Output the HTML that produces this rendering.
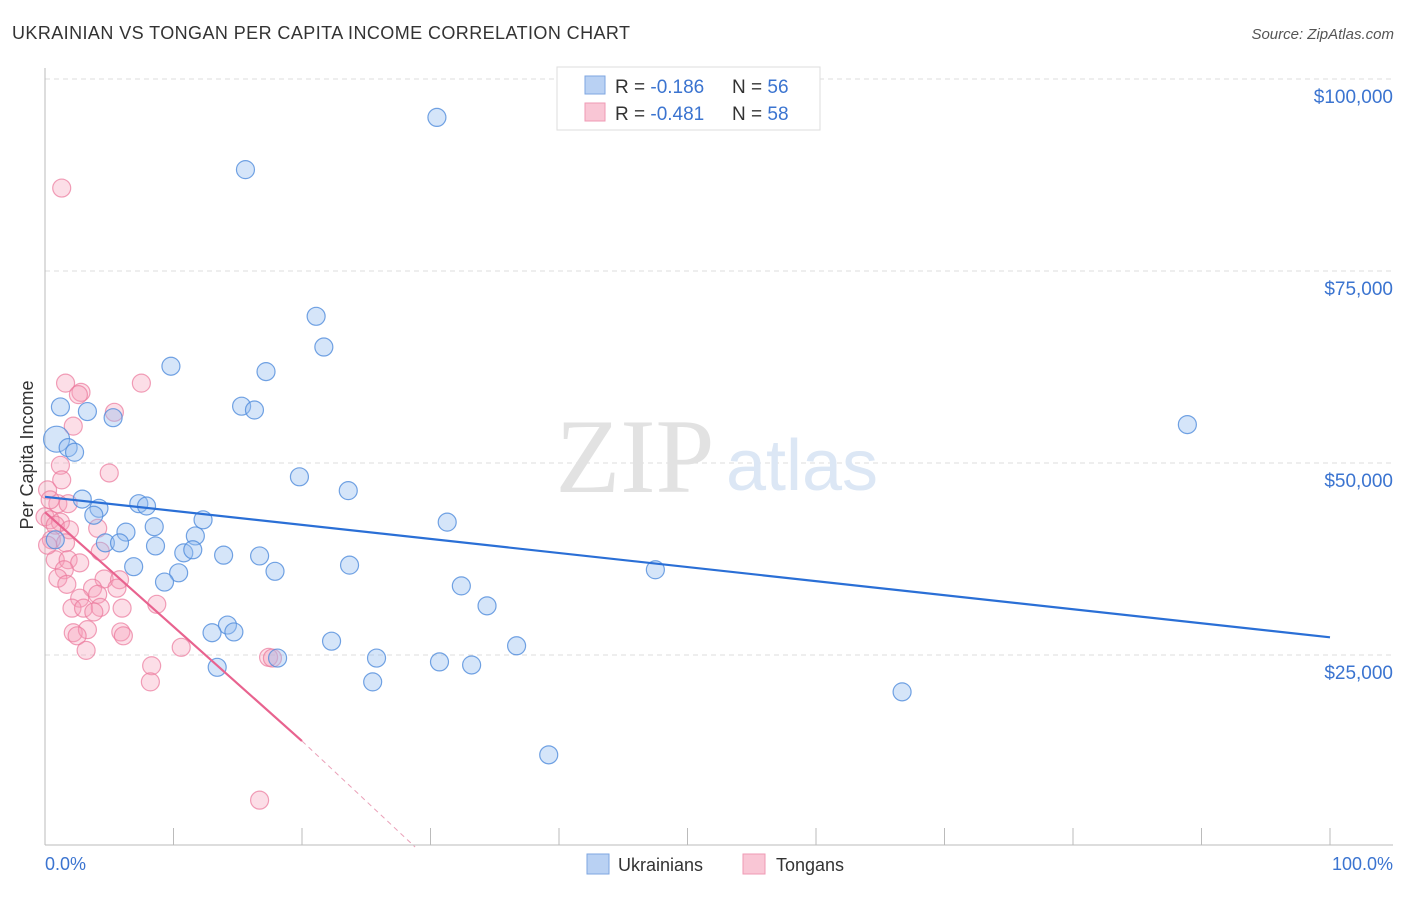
<!DOCTYPE html>
<html><head><meta charset="utf-8"><style>
body{margin:0;background:#fff;font-family:"Liberation Sans",sans-serif;}
svg text{font-family:"Liberation Sans",sans-serif;}
</style></head><body>
<svg id="chart" width="1406" height="892">
<text x="12" y="39" font-size="18" fill="#333" textLength="618">UKRAINIAN VS TONGAN PER CAPITA INCOME CORRELATION CHART</text>
<text x="1394" y="39" font-size="15" fill="#555" font-style="italic" text-anchor="end">Source: ZipAtlas.com</text>
<g id="grid"></g>
<text x="635" y="492" font-size="106" fill="#e2e2e2" text-anchor="middle" style="font-family:'Liberation Serif',serif">ZIP</text>
<text x="802" y="490" font-size="72" fill="#dce7f5" text-anchor="middle">atlas</text>
<g id="pts"></g>
<g id="lines"></g>
<text x="33" y="455" font-size="18" fill="#333" text-anchor="middle" transform="rotate(-90 33 455)">Per Capita Income</text>
<text x="45" y="870" font-size="18" fill="#3b74d0">0.0%</text>
<text x="1393" y="870" font-size="18" fill="#3b74d0" text-anchor="end">100.0%</text>
<g>
<rect x="557" y="67" width="263" height="63" fill="#fff" stroke="#ddd"/>
<rect x="585" y="76" width="20" height="18" fill="#b9d1f3" stroke="#7ea6e0"/>
<rect x="585" y="103" width="20" height="18" fill="#f9c6d5" stroke="#ef9ab4"/>
<text x="615" y="93" font-size="19" fill="#333">R = <tspan fill="#3b74d0">-0.186</tspan><tspan x="732">N = </tspan><tspan fill="#3b74d0">56</tspan></text>
<text x="615" y="120" font-size="19" fill="#333">R = <tspan fill="#3b74d0">-0.481</tspan><tspan x="732">N = </tspan><tspan fill="#3b74d0">58</tspan></text>
</g>
<g><rect x="587" y="854" width="22" height="20" fill="#b9d1f3" stroke="#7ea6e0"/><text x="618" y="871" font-size="18" fill="#333">Ukrainians</text></g>
<g><rect x="743" y="854" width="22" height="20" fill="#f9c6d5" stroke="#ef9ab4"/><text x="776" y="871" font-size="18" fill="#333">Tongans</text></g>
</svg>
<script>
const yTicks=[25000,50000,75000,100000];
const yTickLabels=["$25,000","$50,000","$75,000","$100,000"];
const blueX=[30.5,15.6,21.1,21.7,9.8,17.2,1.2,15.3,16.3,3.3,5.3,88.9,0.9,1.8,2.3,19.8,23.6,2.9,7.3,7.9,4.2,3.8,12.3,31.3,6.3,8.5,11.7,4.7,5.8,8.6,10.8,11.5,13.9,16.7,6.9,23.7,17.9,10.4,9.3,47.5,32.4,34.4,14.2,13.0,14.7,22.3,36.7,18.1,25.8,30.7,33.2,13.4,25.5,66.7,39.2,0.8];
const blueY=[95.0,88.2,69.1,65.1,62.6,61.9,57.3,57.4,56.9,56.7,55.9,55.0,53.1,52.0,51.4,48.2,46.4,45.3,44.7,44.4,44.1,43.2,42.6,42.3,41.0,41.7,40.5,39.6,39.6,39.2,38.3,38.7,38.0,37.9,36.5,36.7,35.9,35.7,34.5,36.1,34.0,31.4,28.9,27.9,28.0,26.8,26.2,24.6,24.6,24.1,23.7,23.4,21.5,20.2,12.0,40.0];
const pinkX=[1.3,1.6,2.8,2.6,7.5,5.4,2.2,1.2,5.0,0.2,1.0,1.8,0.0,0.4,1.2,0.8,1.9,4.1,0.5,1.6,4.3,0.8,1.8,2.7,1.5,1.0,1.7,4.6,5.8,3.7,2.7,4.1,5.6,2.1,3.0,4.3,3.8,6.0,8.7,2.2,3.3,2.5,5.9,6.1,10.6,3.2,17.4,17.7,8.3,8.2,16.7,0.2,0.4,1.3];
const pinkY=[85.8,60.4,59.2,58.9,60.4,56.6,54.8,49.7,48.7,46.5,44.7,44.7,43.0,42.6,42.3,41.9,41.3,41.5,40.0,39.6,38.5,37.4,37.4,37.0,36.1,35.0,34.2,34.9,34.8,33.7,32.4,32.9,33.7,31.1,31.1,31.2,30.6,31.1,31.6,27.9,28.3,27.5,28.0,27.5,26.0,25.6,24.7,24.6,23.6,21.5,6.1,39.3,45.2,47.8];
const blueTrend=[45.6,27.3];
const pinkTrend=[43.6,13.8,20.0,28.8];
const NS="http://www.w3.org/2000/svg";
const X=p=>45+p*12.85, Y=k=>847-k*1000/25000*192;
function mk(t,a,parent){const e=document.createElementNS(NS,t);for(const k in a)e.setAttribute(k,a[k]);parent.appendChild(e);return e;}
const grid=document.getElementById('grid');
yTicks.forEach((v,i)=>{const y=Y(v/1000);
 const l=mk('line',{x1:45,x2:1393,y1:y,y2:y,stroke:'#ddd','stroke-dasharray':'5,4'},grid);
 
 
 const t=mk('text',{x:1393,y:y+24,'font-size':19,fill:'#3b74d0','text-anchor':'end'},grid);t.textContent=yTickLabels[i];
 
 
});
mk('line',{x1:45,x2:45,y1:68,y2:845,stroke:'#bbb'},grid);
mk('line',{x1:45,x2:1393,y1:845,y2:845,stroke:'#bbb'},grid);
for(let i=0;i<=10;i++){const l=mk('line',{x1:X(i*10),x2:X(i*10),y1:828,y2:845,stroke:'#bbb'},grid);
 
 }
const pts=document.getElementById('pts');
pinkX.forEach((x,i)=>{const c=mk('circle',{cx:X(x),cy:Y(pinkY[i]),r:9,fill:'rgba(245,160,185,0.35)',stroke:'rgba(235,120,155,0.7)','stroke-width':1.2},pts);
 
 });
blueX.forEach((x,i)=>{const c=mk('circle',{cx:X(x),cy:Y(blueY[i]),r:(i==12?13:9),fill:'rgba(150,190,240,0.4)',stroke:'rgba(80,140,220,0.8)','stroke-width':1.2},pts);
 
 });
const lg=document.getElementById('lines');
const b=mk('line',{x1:X(0),y1:Y(blueTrend[0]),x2:X(100),y2:Y(blueTrend[1]),stroke:'#2a6fd6','stroke-width':2.2},lg);


const p=mk('line',{x1:X(0),y1:Y(pinkTrend[0]),x2:X(pinkTrend[2]),y2:Y(pinkTrend[1]),stroke:'#e8638f','stroke-width':2.2},lg);


const pd=mk('line',{x1:X(pinkTrend[2]),y1:Y(pinkTrend[1]),x2:X(pinkTrend[3]),y2:Y(0),stroke:'#eaa0b8','stroke-width':1,'stroke-dasharray':'5,4'},lg);


</script>
</body></html>
